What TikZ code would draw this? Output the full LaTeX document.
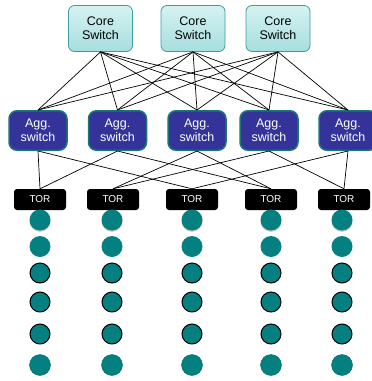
\documentclass[tikz,border=0pt]{standalone}
\usepackage{fontspec}
\setmainfont{Liberation Sans}
\usepackage{xcolor}
\usepackage{tikz}

\definecolor{coreline}{RGB}{60,158,158}
\definecolor{coretop}{RGB}{214,242,242}
\definecolor{corebot}{RGB}{166,222,222}
\definecolor{aggblue}{RGB}{51,51,153}
\definecolor{aggline}{RGB}{28,118,118}
\definecolor{srvteal}{RGB}{4,128,128}

\begin{document}
\begin{tikzpicture}[x=1pt, y=-1pt,
  core/.style={draw=coreline, line width=0.8pt, rounded corners=6pt, top color=coretop, bottom color=corebot, minimum width=64pt, minimum height=46pt, inner sep=0pt, align=center, font=\fontsize{12.5}{14}\selectfont},
  agg/.style={draw=aggline, line width=1.5pt, fill=aggblue, rounded corners=8pt, text=white, minimum width=58pt, minimum height=39.5pt, inner sep=0pt, align=center, font=\fontsize{12.5}{14}\selectfont},
  tor/.style={fill=black, rounded corners=3pt, text=white, minimum width=52pt, minimum height=21pt, inner sep=0pt, font=\fontsize{10}{12}\selectfont},
  server/.style={circle, fill=srvteal, minimum size=21pt, inner sep=0pt},
  srvtop/.style={server, preaction={fill=gray!45, transform canvas={yshift=-1.3pt}}},
  srvplain/.style={server},
  srvrim/.style={server, draw=black, line width=1pt, minimum size=20pt},
  srvbase/.style={server, draw=srvteal!80!black, line width=0.4pt},
  link/.style={black, line width=0.7pt}
]
\useasboundingbox (0,0) rectangle (372,381);

% Core layer
\node[core] (core1) at (100.5,28.5) {Core\\Switch};
\node[core] (core2) at (193,28.5) {Core\\Switch};
\node[core] (core3) at (278,28.5) {Core\\Switch};

% Aggregation layer
\node[agg] (agg1) at (38,130.5) {Agg.\\switch};
\node[agg] (agg2) at (117.5,130.5) {Agg.\\switch};
\node[agg] (agg3) at (197,130.5) {Agg.\\switch};
\node[agg] (agg4) at (269,130.5) {Agg.\\switch};
\node[agg] (agg5) at (348,130.5) {Agg.\\switch};

% Core to aggregation: full mesh
\foreach \c in {1,2,3}
  \foreach \a in {1,...,5}
    \draw[link] (core\c.south) -- (agg\a.north);

% Top of rack layer
\node[tor] (tor1) at (40,199.5) {TOR};
\node[tor] (tor2) at (113,199.5) {TOR};
\node[tor] (tor3) at (192,199.5) {TOR};
\node[tor] (tor4) at (271,199.5) {TOR};
\node[tor] (tor5) at (344,199.5) {TOR};

% Aggregation to TOR
\draw[link] (agg1.south) -- (tor1.north);
\draw[link] (agg1.south) -- (tor3.north);
\draw[link] (agg2.south) -- (tor1.north);
\draw[link] (agg2.south) -- (tor4.north);
\draw[link] (agg3.south) -- (tor2.north);
\draw[link] (agg3.south) -- (tor4.north);
\draw[link] (agg4.south) -- (tor2.north);
\draw[link] (agg4.south) -- (tor5.north);
\draw[link] (agg5.south) -- (tor3.north);
\draw[link] (agg5.south) -- (tor5.north);

% Servers under each TOR
\foreach \x [count=\c] in {40,112,192,271,342}
  \foreach \y/\st [count=\r] in {220/srvtop, 246.5/srvplain, 273/srvrim, 302/srvrim, 334/srvrim, 365/srvbase}
    \node[\st] (srv\c-\r) at (\x,\y) {};

\end{tikzpicture}
\end{document}
